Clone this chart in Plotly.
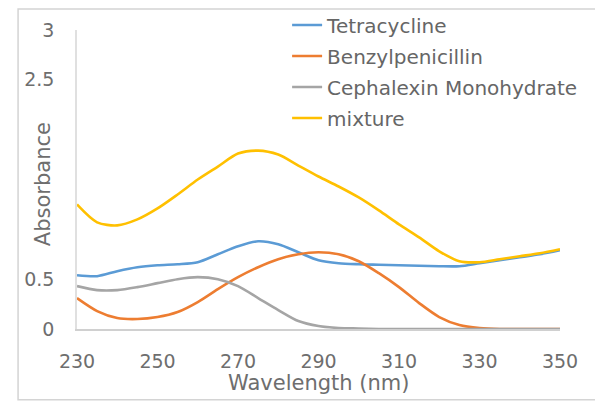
import plotly.graph_objects as go

# Wavelength grid (nm)
wavelength = [230, 235, 240, 245, 250, 255, 260, 265, 270, 275, 280, 285, 290,
              295, 300, 305, 310, 315, 320, 325, 330, 335, 340, 345, 350]

tetracycline = [0.54, 0.53, 0.58, 0.62, 0.64, 0.65, 0.67, 0.75, 0.83, 0.88, 0.85, 0.77, 0.69,
                0.66, 0.65, 0.645, 0.64, 0.635, 0.63, 0.63, 0.66, 0.69, 0.72, 0.75, 0.79]

benzylpenicillin = [0.31, 0.18, 0.11, 0.10, 0.12, 0.17, 0.27, 0.40, 0.52, 0.62, 0.70, 0.75, 0.77,
                    0.75, 0.68, 0.56, 0.42, 0.26, 0.12, 0.04, 0.01, 0.0, 0.0, 0.0, 0.0]

cephalexin = [0.43, 0.39, 0.39, 0.42, 0.46, 0.50, 0.52, 0.50, 0.43, 0.31, 0.19, 0.08, 0.03,
              0.01, 0.005, 0.0, 0.0, 0.0, 0.0, 0.0, 0.0, 0.0, 0.0, 0.0, 0.0]

mixture = [1.25, 1.07, 1.04, 1.10, 1.21, 1.35, 1.50, 1.63, 1.76, 1.79, 1.75, 1.64, 1.53,
           1.43, 1.32, 1.19, 1.05, 0.92, 0.78, 0.68, 0.67, 0.70, 0.73, 0.76, 0.80]

series = [
    ("Tetracycline", tetracycline, "#5B9BD5"),
    ("Benzylpenicillin", benzylpenicillin, "#ED7D31"),
    ("Cephalexin Monohydrate", cephalexin, "#A5A5A5"),
    ("mixture", mixture, "#FFC000"),
]

x_ticks = [230, 250, 270, 290, 310, 330, 350]
y_ticks = [0, 0.5, 1, 1.5, 2, 2.5, 3]
y_ticktext = ["0", "0.5", "", "", "", "2.5", "3"]

FONT = "DejaVu Sans"
TEXT_COLOR = "#6E6E6E"

fig = go.Figure()
for i, (name, values, color) in enumerate(series):
    fig.add_trace(go.Scatter(
        x=wavelength, y=values, name=name, mode="lines",
        line=dict(color=color, width=2.6, shape="spline", smoothing=0.8),
        legendgroup=f"g{i}",
    ))

fig.update_layout(
    width=595, height=403,
    margin=dict(l=77, r=35, t=30, b=74, autoexpand=False),
    paper_bgcolor="white", plot_bgcolor="white",
    font=dict(family=FONT, color=TEXT_COLOR, size=19),
    showlegend=True,
    legend=dict(
        x=0.435, y=1.082, xanchor="left", yanchor="top",
        bgcolor="rgba(0,0,0,0)", tracegroupgap=2,
        font=dict(family=FONT, size=20, color="#666666"),
    ),
    xaxis=dict(
        range=[230, 350], tickvals=x_ticks, ticks="", showgrid=False,
        zeroline=False, showline=True, linecolor="#D0D0D0", linewidth=1.5,
        ticklabelstandoff=14, tickfont=dict(size=19), automargin=False,
    ),
    yaxis=dict(
        range=[0, 3], tickvals=y_ticks, ticktext=y_ticktext, ticks="",
        showgrid=False, zeroline=False, showline=True, linecolor="#E0E0E0",
        linewidth=1.5, ticklabelstandoff=17, tickfont=dict(size=19),
        automargin=False,
    ),
    annotations=[
        dict(text="Absorbance", textangle=-90, xref="paper", yref="paper",
             x=-0.07, y=0.485, xanchor="center", yanchor="middle",
             showarrow=False, font=dict(size=21, color=TEXT_COLOR)),
        dict(text="Wavelength (nm)", xref="paper", yref="paper",
             x=0.5, y=-0.18, xanchor="center", yanchor="middle",
             showarrow=False, font=dict(size=21, color=TEXT_COLOR)),
    ],
    shapes=[dict(
        type="rect", xref="paper", yref="paper",
        x0=-0.122, x1=1.2, y0=-0.237, y1=1.07,
        line=dict(color="#D4D4D4", width=1.5), fillcolor="rgba(0,0,0,0)",
        layer="above",
    )],
)

fig.write_html("out.html")
